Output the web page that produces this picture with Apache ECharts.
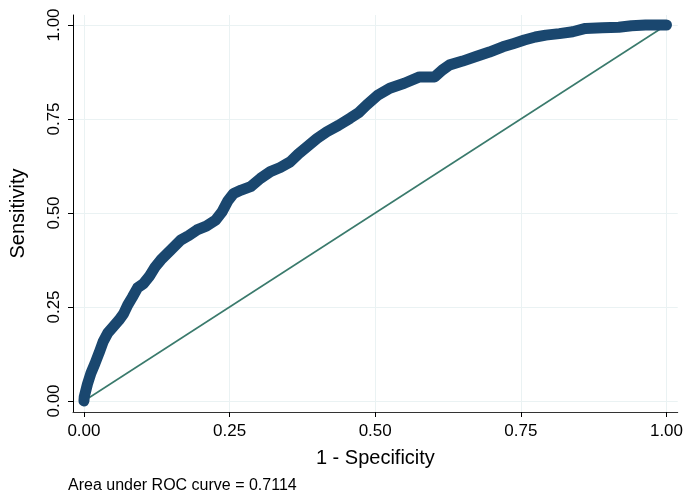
<!DOCTYPE html>
<html>
<head>
<meta charset="utf-8">
<script src="https://cdn.jsdelivr.net/npm/echarts@6/dist/echarts.min.js"></script>
<style>
  html, body { margin: 0; padding: 0; background: #fff; }
  #chart { width: 686px; height: 496px; }
</style>
</head>
<body>
<div id="chart"></div>
<script>
// 1 - specificity (x) and sensitivity (y)
const fpr = [0, 0.0005, 0.006, 0.012, 0.019, 0.026, 0.033, 0.041, 0.050, 0.060, 0.068, 0.075, 0.083, 0.092,
  0.102, 0.112, 0.122, 0.132, 0.148, 0.166, 0.180, 0.194, 0.210, 0.226, 0.237, 0.247, 0.257, 0.270,
  0.286, 0.303, 0.320, 0.337, 0.354, 0.368, 0.383, 0.400, 0.417, 0.437, 0.457, 0.471, 0.485, 0.505,
  0.525, 0.550, 0.576, 0.602, 0.615, 0.628, 0.650, 0.673, 0.696, 0.719, 0.738, 0.756, 0.775, 0.793,
  0.816, 0.839, 0.861, 0.890, 0.918, 0.940, 0.964, 1];
const tpr = [0, 0.011, 0.045, 0.074, 0.100, 0.128, 0.158, 0.181, 0.197, 0.215, 0.232, 0.255, 0.276, 0.301,
  0.312, 0.331, 0.356, 0.375, 0.400, 0.428, 0.440, 0.455, 0.465, 0.481, 0.503, 0.532, 0.552, 0.561,
  0.570, 0.592, 0.610, 0.621, 0.636, 0.657, 0.676, 0.698, 0.716, 0.733, 0.752, 0.766, 0.787, 0.814,
  0.832, 0.845, 0.862, 0.862, 0.880, 0.894, 0.904, 0.916, 0.928, 0.942, 0.951, 0.960, 0.968, 0.973,
  0.977, 0.982, 0.991, 0.993, 0.994, 0.998, 1, 1];
const refLine = [[0, 0], [1, 1]];
const ticks = [0, 0.25, 0.5, 0.75, 1];
const aucNote = 'Area under ROC curve = 0.7114';

const chart = echarts.init(document.getElementById('chart'));
const font = 'Liberation Sans, Arial, sans-serif';

chart.setOption({
  backgroundColor: '#fff',
  animation: false,
  title: {
    text: aucNote,
    left: 68,
    top: 478,
    padding: 0,
    textStyle: { fontFamily: font, fontSize: 16, fontWeight: 'normal', color: '#000' }
  },
  grid: { left: 72, right: 7, top: 15, bottom: 84 },
  xAxis: {
    type: 'value',
    min: -0.0188,
    max: 1.0193,
    name: '1 - Specificity',
    nameLocation: 'middle',
    nameGap: 36,
    nameTextStyle: { fontFamily: font, fontSize: 20, color: '#000' },
    axisLine: { onZero: false, lineStyle: { color: '#333', width: 1 } },
    axisTick: { show: true, length: 5, customValues: ticks, lineStyle: { color: '#000' } },
    axisLabel: {
      customValues: ticks,
      margin: 11,
      fontFamily: font,
      fontSize: 17,
      color: '#000',
      formatter: v => v.toFixed(2)
    },
    splitLine: { show: true, lineStyle: { color: '#eaf2f3', width: 1 } }
  },
  yAxis: {
    type: 'value',
    min: -0.0293,
    max: 1.0266,
    name: 'Sensitivity',
    nameLocation: 'middle',
    nameRotate: 90,
    nameGap: 45,
    nameTextStyle: { fontFamily: font, fontSize: 20, color: '#000' },
    axisLine: { show: true, onZero: false, lineStyle: { color: '#000', width: 1 } },
    axisTick: { show: true, length: 5, customValues: ticks, lineStyle: { color: '#000' } },
    axisLabel: {
      customValues: ticks,
      rotate: 90,
      margin: 10,
      fontFamily: font,
      fontSize: 17,
      color: '#000',
      formatter: v => v.toFixed(2)
    },
    splitLine: { show: true, lineStyle: { color: '#eaf2f3', width: 1 } }
  },
  series: [
    {
      type: 'line',
      data: refLine,
      showSymbol: false,
      silent: true,
      lineStyle: { color: '#3a7a6c', width: 1.6 },
      z: 2
    },
    {
      type: 'line',
      data: fpr.map((x, i) => [x, tpr[i]]),
      showSymbol: false,
      silent: true,
      lineStyle: { color: '#1a476f', width: 11, cap: 'round', join: 'round' },
      z: 3
    }
  ]
});
</script>
</body>
</html>
